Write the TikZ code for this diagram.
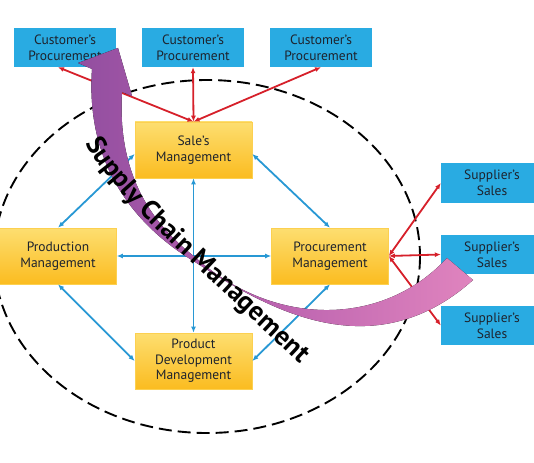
\documentclass[tikz,border=0pt]{standalone}
\usepackage{fontspec}
\setmainfont{PT Sans}
\usetikzlibrary{arrows.meta,decorations.text,calc}
\definecolor{boxblue}{RGB}{41,171,226}
\definecolor{lineblue}{RGB}{40,152,212}
\definecolor{linered}{RGB}{214,32,42}
\definecolor{ytop}{RGB}{253,222,112}
\definecolor{ybot}{RGB}{251,188,32}
\definecolor{arrpurple}{RGB}{146,78,160}
\definecolor{arrmid}{RGB}{188,100,176}
\definecolor{arrpink}{RGB}{224,132,190}
\definecolor{txtdark}{RGB}{30,35,45}
\begin{document}
\begin{tikzpicture}[x=1pt,y=-1pt,
  boxtext/.style={align=center, text=txtdark, inner sep=0pt, font=\fontsize{13.5}{15.6}\selectfont},
  bluebox/.style={boxtext, rectangle, fill=boxblue, minimum width=102pt, minimum height=39pt},
  yellowbox/.style={boxtext, rectangle, top color=ytop, bottom color=ybot, draw=ytop!60!ybot, line width=0.6pt, minimum width=117pt, minimum height=56pt},
  bluearr/.style={draw=lineblue, line width=1.8pt, {Latex[length=6pt,width=5pt]}-{Latex[length=6pt,width=5pt]}},
  redarr/.style={draw=linered, line width=1.8pt, {Latex[length=6pt,width=5pt]}-{Latex[length=6pt,width=5pt]}},
  scmring/.style={draw=black, line width=1.9pt, dash pattern=on 13pt off 6pt}
]
\useasboundingbox (0,0) rectangle (534,462);

% dashed ellipse
\draw[scmring] (207,256.5) ellipse [x radius=213, y radius=176.5];

% nodes
\node[bluebox] (c1) at (65,47.5) {Customer’s\\Procurement};
\node[bluebox] (c2) at (193,47.5) {Customer’s\\Procurement};
\node[bluebox] (c3) at (321,47.5) {Customer’s\\Procurement};
\node[bluebox] (s1) at (492,183) {Supplier’s\\Sales};
\node[bluebox] (s2) at (492,254.5) {Supplier’s\\Sales};
\node[bluebox] (s3) at (492,325.5) {Supplier’s\\Sales};

\node[yellowbox] (sales) at (193.5,150) {Sale’s\\Management};
\node[yellowbox] (prod) at (58,256) {Production\\Management};
\node[yellowbox] (proc) at (330,256) {Procurement\\Management};
\node[yellowbox] (dev) at (193.5,361) {Product\\Development\\Management};

% blue connectors
\draw[bluearr] (sales.south) -- (dev.north);
\draw[bluearr] (prod.east) -- (proc.west);
\draw[bluearr] ([yshift=-4pt]sales.west) -- (prod.north);
\draw[bluearr] ([yshift=-4pt]sales.east) -- (proc.north);
\draw[bluearr] (prod.south) -- (dev.west);
\draw[bluearr] (proc.south) -- (dev.east);

% red connectors
\draw[redarr] (sales.north) -- ([xshift=-7pt]c1.south);
\draw[redarr] (sales.north) -- (c2.south);
\draw[redarr] (sales.north) -- (c3.south);
\draw[redarr] (proc.east) -- (s1.west);
\draw[redarr] (proc.east) -- (s2.west);
\draw[redarr] (proc.east) -- (s3.west);

% big curved arrow
\fill[left color=arrpurple, right color=arrpink, middle color=arrmid]
  (92,69) -- (78,63) -- (118,48) -- (132,96) -- (122,92)
  .. controls (118,160) and (140,215) .. (195,257)
  .. controls (270,325) and (380,330) .. (447,258)
  -- (473,280)
  .. controls (370,372) and (262,305) .. (195,262)
  .. controls (140,229) and (85,170) .. (92,69) -- cycle;

% curved label
\path[decorate, decoration={text along path, text align=left,
  text={|\fontsize{27}{30}\selectfont\bfseries|Supply Chain Management}}]
  (86,143) .. controls (112,195) and (195,264) .. (302,366);
\end{tikzpicture}
\end{document}
